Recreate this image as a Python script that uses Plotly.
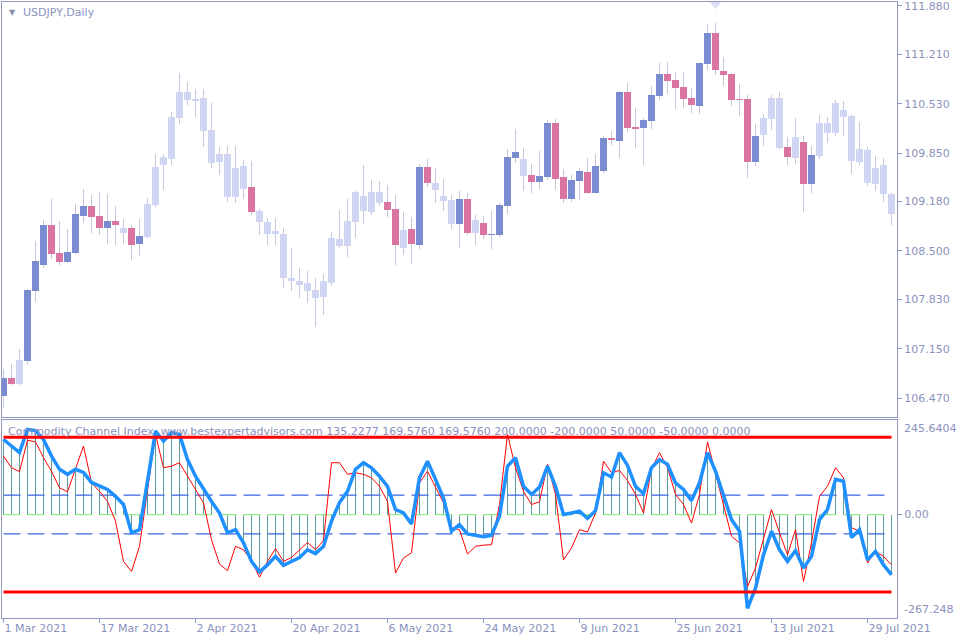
import pandas as pd
import plotly.graph_objects as go

# ---------------- data ----------------
dates = [d.strftime("%Y-%m-%d") for d in pd.bdate_range("2021-03-01", periods=112)]

opens = [106.50,106.75,106.66,106.98,107.95,108.31,108.86,108.47,108.35,108.47,
         108.98,109.12,108.98,108.82,108.91,108.82,108.82,108.60,108.69,109.13,
         109.69,109.77,110.33,110.69,110.60,110.61,110.17,109.73,109.84,109.24,
         109.67,109.38,109.05,108.90,108.78,108.73,108.13,108.09,108.06,107.96,
         107.86,108.06,108.66,108.57,108.90,109.26,109.04,109.31,109.18,109.08,
         108.54,108.80,108.58,109.66,109.44,109.26,109.20,108.87,109.22,108.75,
         108.89,108.72,108.72,109.12,109.78,109.77,109.55,109.45,109.52,110.27,
         109.52,109.22,109.46,109.59,109.30,109.60,110.06,110.02,110.69,110.21,
         110.20,110.29,110.64,110.94,110.86,110.76,110.61,110.50,111.08,111.51,
         110.98,110.94,110.60,110.60,109.73,110.10,110.32,110.61,109.93,109.78,
         110.00,109.42,109.81,110.13,110.13,110.45,110.36,109.73,109.89,109.42,
         109.69,109.29]
closes = [106.75,106.66,106.99,107.96,108.36,108.86,108.46,108.35,108.49,109.01,
          109.12,108.97,108.82,108.91,108.86,108.75,108.58,108.71,109.15,109.66,
          109.80,110.35,110.69,110.58,110.57,110.16,109.71,109.84,109.24,109.64,
          109.35,109.04,108.90,108.73,108.73,108.13,108.09,108.03,107.95,107.85,
          108.09,108.68,108.57,108.91,109.31,109.05,109.31,109.16,109.07,108.58,
          108.79,108.60,109.66,109.44,109.34,109.19,108.87,109.22,108.75,108.93,
          108.72,108.73,109.13,109.80,109.87,109.53,109.45,109.53,110.27,109.49,
          109.22,109.48,109.60,109.30,109.67,110.06,110.03,110.69,110.20,110.18,
          110.31,110.65,110.94,110.85,110.75,110.60,110.51,111.09,111.51,111.00,
          110.93,110.58,110.58,109.73,110.09,110.33,110.61,109.92,109.80,110.07,
          109.42,109.82,110.27,110.27,110.54,110.35,109.74,109.91,109.44,109.64,
          109.29,109.01]
highs = [106.87,106.94,107.15,107.97,108.64,108.93,109.22,108.91,108.80,109.15,
         109.35,109.27,109.31,109.29,109.12,108.94,108.86,108.94,109.23,109.84,
         109.84,110.42,110.96,110.83,110.73,110.73,110.54,109.93,109.95,109.95,
         109.75,109.74,109.08,108.95,108.95,108.82,108.54,108.26,108.22,108.13,
         108.18,108.76,109.07,109.22,109.33,109.69,109.48,109.46,109.41,109.27,
         109.04,108.97,109.70,109.77,109.64,109.49,109.27,109.33,109.30,109.00,
         108.98,109.05,109.16,109.91,110.18,109.92,109.70,109.88,110.31,110.32,
         109.63,109.55,109.64,109.78,109.84,110.09,110.16,110.71,110.82,110.47,
         110.33,110.78,111.09,111.11,110.97,110.97,110.75,111.11,111.63,111.65,
         111.18,110.96,110.80,110.65,110.25,110.39,110.65,110.69,110.07,110.33,
         110.09,109.95,110.38,110.35,110.58,110.57,110.38,110.28,109.93,109.81,
         109.78,109.30]
lows = [106.33,106.65,106.65,106.93,107.80,108.26,108.39,108.31,108.33,108.46,
        108.89,108.75,108.72,108.60,108.58,108.60,108.37,108.43,108.68,109.11,
        109.34,109.69,110.25,110.51,110.35,109.93,109.64,109.55,109.18,109.16,
        109.22,109.00,108.72,108.58,108.58,107.99,107.95,107.85,107.78,107.45,
        107.62,108.02,108.54,108.42,108.68,108.87,109.00,109.12,108.97,108.31,
        108.44,108.32,108.53,109.38,109.16,109.05,108.80,108.54,108.72,108.58,
        108.66,108.53,108.69,109.01,109.71,109.33,109.30,109.35,109.48,109.34,
        109.16,109.18,109.20,109.29,109.29,109.58,109.96,109.78,110.14,109.92,
        109.69,110.18,110.58,110.67,110.46,110.47,110.40,110.39,111.00,110.93,
        110.78,110.50,110.36,109.51,109.67,109.95,110.17,109.91,109.69,109.70,
        109.04,109.30,109.77,109.99,110.09,110.09,109.56,109.69,109.40,109.33,
        109.18,108.86]
# candle colour class: B = blue, P = pink, L = light
candle_class = list("BPLBBBPPBB" "BPPBPLPBLL" "LLLLLLLLLL" "LPLLLLLLLL" "LLLLLLLLPP"
                    "LPBPLLLBPL" "PBBBBLPBBP" "PBBPBBPBPP" "BBBPPPPBBP" "PPPPBLLLPL"
                    "PBLLLLLLLL" "LL")

cci_main = [194,177,160,220,217,194,151,117,104,117,
            109,83,73,65,47,26,-47,-39,86,216,
            190,212,207,142,99,65,34,4,-47,-39,
            -73,-121,-148,-130,-108,-131,-121,-111,-91,-101,
            -82,-17,31,60,117,134,121,99,73,13,
            4,-24,95,138,91,43,-43,-26,-50,-54,
            -57,-54,-4,125,147,73,52,71,125,73,
            0,4,9,-10,10,108,97,160,127,73,
            54,121,142,130,82,65,36,82,160,112,
            52,-13,-43,-242,-190,-104,-43,-91,-121,-93,
            -138,-108,-13,13,91,86,-59,-39,-117,-95,
            -130,-155]
cci_signal = [151,121,111,192,188,147,112,69,59,117,
              177,82,60,34,-17,-121,-147,-82,60,207,
              121,125,134,99,65,30,-65,-128,-145,-82,
              -91,-119,-162,-121,-88,-121,-111,-91,-72,-91,
              -67,134,134,104,108,104,95,73,34,-151,
              -112,-99,82,112,73,30,-34,-39,-102,-82,
              -79,-78,26,207,121,60,26,33,130,52,
              -117,-86,-39,-45,4,138,108,114,88,52,
              4,117,160,121,52,26,-22,52,188,108,
              30,-56,-73,-186,-138,-65,13,-47,-104,-39,
              -173,-73,47,73,121,95,-34,-43,-125,-95,
              -108,-130]

price_ticks = [111.88, 111.21, 110.53, 109.85, 109.18, 108.50, 107.83, 107.15, 106.47]
price_tick_text = ["111.880", "111.210", "110.530", "109.850", "109.180",
                   "108.500", "107.830", "107.150", "106.470"]
date_ticks = ["2021-03-01", "2021-03-17", "2021-04-02", "2021-04-20", "2021-05-06",
              "2021-05-24", "2021-06-09", "2021-06-25", "2021-07-13", "2021-07-29"]
date_tick_text = ["1 Mar 2021", "17 Mar 2021", "2 Apr 2021", "20 Apr 2021", "6 May 2021",
                  "24 May 2021", "9 Jun 2021", "25 Jun 2021", "13 Jul 2021", "29 Jul 2021"]
cci_max_label, cci_min_label = 245.6404, -267.248
levels_red = [200, -200]
levels_blue = [50, -50]
level_zero = 0
peak_marker_price = 111.91
title_text = "USDJPY,Daily"
cci_text = ("Commodity Channel Index  www.bestexpertadvisors.com 135.2277 169.5760 169.5760 "
            "200.0000 -200.0000 50.0000 -50.0000 0.0000")

# ---------------- styles ----------------
FRAME = "#8F97C2"
TXT = "#8A92BE"
FONT = "DejaVu Sans"
COLORS = {"B": "#7B8BCF", "P": "#DB74A0", "L": "#D0D5F2"}
WICK = "#C6C8DE"

fig = go.Figure()

# wicks
fig.add_trace(go.Bar(x=dates, base=lows, y=[h - l for h, l in zip(highs, lows)],
                     width=0.125, marker=dict(color=WICK, line=dict(width=0)),
                     xaxis="x", yaxis="y", hoverinfo="skip"))
# bodies
for cls, col in COLORS.items():
    idx = [i for i, c in enumerate(candle_class) if c == cls]
    fig.add_trace(go.Bar(
        x=[dates[i] for i in idx],
        base=[min(opens[i], closes[i]) for i in idx],
        y=[max(abs(closes[i] - opens[i]), 0.012) for i in idx],
        width=0.875, marker=dict(color=col, line=dict(width=0)),
        xaxis="x", yaxis="y"))

# peak marker
fig.add_trace(go.Scatter(x=[dates[89]], y=[peak_marker_price], mode="markers",
                         marker=dict(symbol="triangle-down", size=11, color="#DCDEF2"),
                         cliponaxis=False, xaxis="x", yaxis="y"))

# CCI histogram
fig.add_trace(go.Bar(x=dates, y=cci_main, width=0.125,
                     marker=dict(color="#5F9EA0", line=dict(width=0)),
                     xaxis="x2", yaxis="y2"))

span = [dates[0], dates[-1]]
for lv in levels_blue:
    fig.add_trace(go.Scatter(x=span, y=[lv, lv], mode="lines",
                             line=dict(color="#3A64E0", width=1.2, dash="17px,7px"),
                             xaxis="x2", yaxis="y2"))
fig.add_trace(go.Scatter(x=span, y=[level_zero, level_zero], mode="lines",
                         line=dict(color="#90EE90", width=1.2, dash="17px,7px"),
                         xaxis="x2", yaxis="y2"))
fig.add_trace(go.Scatter(x=dates, y=cci_signal, mode="lines",
                         line=dict(color="#FF0000", width=1),
                         xaxis="x2", yaxis="y2"))
fig.add_trace(go.Scatter(x=dates, y=cci_main, mode="lines",
                         line=dict(color="#1E90FF", width=3.5),
                         xaxis="x2", yaxis="y2"))
for lv in levels_red:
    fig.add_trace(go.Scatter(x=span, y=[lv, lv], mode="lines",
                             line=dict(color="#FF0000", width=3),
                             xaxis="x2", yaxis="y2"))

W, H = 960, 640
xdom = [2 / W, 897 / W]
xrange_ = [-0.1875, 111.6875]
main_dom = [1 - 416.5 / H, 1 - 2 / H]
sub_dom = [1 - 618 / H, 1 - 419.5 / H]

axis_common = dict(showgrid=False, zeroline=False, showline=True, mirror=True,
                   linecolor=FRAME, linewidth=1, automargin=False,
                   tickfont=dict(family=FONT, size=11, color=TXT))

fig.update_layout(
    width=W, height=H, margin=dict(l=0, r=0, t=0, b=0, pad=0, autoexpand=False),
    paper_bgcolor="white", plot_bgcolor="white", showlegend=False,
    barmode="overlay", bargap=0, hovermode=False,
    xaxis=dict(domain=xdom, anchor="y", type="category", categoryorder="array",
               categoryarray=dates, range=xrange_, showticklabels=False, ticks="",
               **axis_common),
    yaxis=dict(domain=main_dom, anchor="x", side="right", range=[106.215, 111.935],
               tickvals=price_ticks, ticktext=price_tick_text, ticks="outside",
               ticklen=4, tickcolor=FRAME, ticklabeloverflow="allow", **axis_common),
    xaxis2=dict(domain=xdom, anchor="y2", type="category", categoryorder="array",
                categoryarray=dates, range=xrange_, tickvals=date_ticks,
                ticktext=date_tick_text, ticks="outside", ticklen=4, tickcolor=FRAME,
                ticklabelposition="outside right", ticklabeloverflow="allow",
                **axis_common),
    yaxis2=dict(domain=sub_dom, anchor="x2", side="right",
                range=[cci_min_label, cci_max_label], tickvals=[0], ticktext=["0.00"],
                ticks="outside", ticklen=4, tickcolor=FRAME, **axis_common),
)

ann_font = dict(family=FONT, size=11, color=TXT)
fig.add_annotation(text="▼", x=7 / W, y=1 - 12 / H, xref="paper", yref="paper",
                   xanchor="left", yanchor="middle", showarrow=False,
                   font=dict(family=FONT, size=8, color="#8990B4"))
fig.add_annotation(text=title_text, x=21 / W, y=1 - 13 / H, xref="paper", yref="paper",
                   xanchor="left", yanchor="middle", showarrow=False, font=ann_font)
fig.add_annotation(text=cci_text, x=6 / W, y=1 - 431 / H, xref="paper", yref="paper",
                   xanchor="left", yanchor="middle", showarrow=False, font=ann_font)
fig.add_annotation(text=f"{cci_max_label:.4f}", x=902 / W, y=cci_max_label, xref="paper",
                   yref="y2", xanchor="left", yanchor="top", showarrow=False, font=ann_font)
fig.add_annotation(text=f"{cci_min_label:.3f}", x=902 / W, y=cci_min_label, xref="paper",
                   yref="y2", xanchor="left", yanchor="bottom", showarrow=False, font=ann_font)

fig.write_html("out.html", config={"displayModeBar": False, "staticPlot": True},
               post_script="document.body.style.margin='0';document.body.style.overflow='hidden';")
